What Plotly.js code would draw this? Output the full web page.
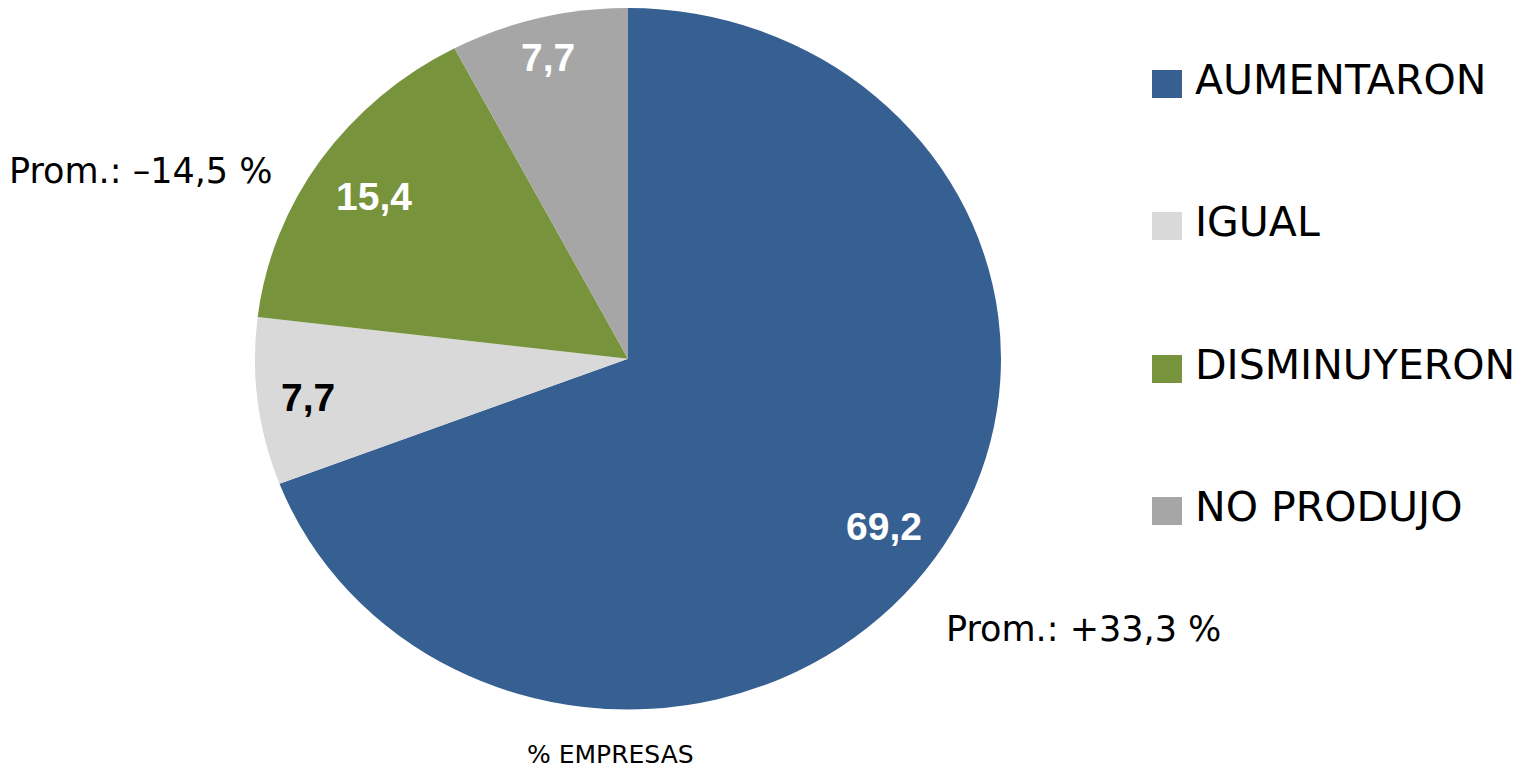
<!DOCTYPE html>
<html><head><meta charset="utf-8">
<script src="https://cdn.plot.ly/plotly-3.0.1.min.js"></script>
<style>html,body{margin:0;padding:0;background:#fff;}#chart{width:1518px;height:772px;}</style>
</head><body><div id="chart"></div>
<script>
// ---- data ----
const categories = ['AUMENTARON', 'IGUAL', 'DISMINUYERON', 'NO PRODUJO'];
const values = [69.2, 7.7, 15.4, 7.7];
const averageNotes = ['Prom.: –14,5 %', 'Prom.: +33,3 %'];
const axisNote = '% EMPRESAS';

// ---- styles ----
const colors = ['#376092', '#D9D9D9', '#77933C', '#A6A6A6'];
const textColors = ['#FFFFFF', '#000000', '#FFFFFF', '#FFFFFF'];
const labelRadius = [0.832, 0.865, 0.828, 0.89];   // fraction of radius for value labels
const W = 1518, H = 772;
const px = x => x / W, py = y => 1 - y / H;
const noteFont = 'DejaVu Sans, Verdana, sans-serif';
const valueFont = 'Liberation Sans, Arial, sans-serif';

const cx = 628, cyTop = 8, cyBot = 709.5;
const halfW = 400;
const stretchX = 373 / ((cyBot - cyTop) / 2);

const trace = {
  type: 'pie',
  labels: categories,
  values: values,
  textinfo: 'none',
  textposition: 'none',
  sort: false,
  direction: 'clockwise',
  rotation: 0,
  marker: {colors: colors, line: {width: 0}},
  hoverinfo: 'none',
  showlegend: false,
  domain: {x: [px(cx - halfW), px(cx + halfW)], y: [py(cyBot), py(cyTop)]}
};

const legendMid = [84, 226, 369, 511];
const shapes = categories.map((c, i) => ({
  type: 'rect', xref: 'paper', yref: 'paper',
  x0: px(1152), x1: px(1182), y0: py(legendMid[i] + 14), y1: py(legendMid[i] - 14),
  fillcolor: colors[i], line: {width: 0}
}));

const baseAnnotations = categories.map((c, i) => ({
  text: c, xref: 'paper', yref: 'paper', x: px(1193), y: py(legendMid[i] - 4),
  xanchor: 'left', yanchor: 'middle', showarrow: false,
  font: {family: noteFont, size: 41, color: '#000'}
}));
baseAnnotations.push({
  text: averageNotes[0], xref: 'paper', yref: 'paper', x: px(7), y: py(171),
  xanchor: 'left', yanchor: 'middle', showarrow: false,
  font: {family: noteFont, size: 35, color: '#000'}
});
baseAnnotations.push({
  text: averageNotes[1], xref: 'paper', yref: 'paper', x: px(944), y: py(629),
  xanchor: 'left', yanchor: 'middle', showarrow: false,
  font: {family: noteFont, size: 35, color: '#000'}
});
baseAnnotations.push({
  text: axisNote, xref: 'paper', yref: 'paper', x: px(610), y: py(754),
  xanchor: 'center', yanchor: 'middle', showarrow: false,
  font: {family: noteFont, size: 25, color: '#000'}
});

const layout = {
  width: W, height: H,
  margin: {l: 0, r: 0, t: 0, b: 0},
  paper_bgcolor: '#FFFFFF',
  plot_bgcolor: '#FFFFFF',
  showlegend: false,
  shapes: shapes,
  annotations: baseAnnotations
};

Plotly.newPlot('chart', [trace], layout, {displayModeBar: false, staticPlot: true}).then(gd => {
  const cd0 = gd.calcdata[0][0];
  // reference pie is slightly wider than tall
  const layer = gd.querySelector('.pielayer');
  if (layer && cd0 && cd0.cx !== undefined) {
    const prev = layer.getAttribute('transform') || '';
    layer.setAttribute('transform', prev + ' translate(' + cd0.cx + ',0) scale(' + stretchX + ',1) translate(' + (-cd0.cx) + ',0)');
  }
  // value labels placed along each slice's mid-angle, using the pie's own geometry
  const total = values.reduce((a, b) => a + b, 0);
  let cum = 0;
  const valueAnnotations = values.map((v, i) => {
    const mid = (cum + v / 2) / total * 2 * Math.PI;
    cum += v;
    const x = cd0.cx + cd0.r * stretchX * labelRadius[i] * Math.sin(mid);
    const y = cd0.cy - cd0.r * labelRadius[i] * Math.cos(mid);
    return {
      text: v.toFixed(1).replace('.', ','), xref: 'paper', yref: 'paper',
      x: px(x), y: py(y + 2), xanchor: 'center', yanchor: 'middle', showarrow: false,
      font: {family: valueFont, size: 39, color: textColors[i], weight: 'bold'}
    };
  });
  return Plotly.relayout(gd, {annotations: baseAnnotations.concat(valueAnnotations)}).then(() => {
    const l2 = gd.querySelector('.pielayer');
    if (l2 && !/scale/.test(l2.getAttribute('transform') || '')) {
      const prev = l2.getAttribute('transform') || '';
      l2.setAttribute('transform', prev + ' translate(' + cd0.cx + ',0) scale(' + stretchX + ',1) translate(' + (-cd0.cx) + ',0)');
    }
  });
});
</script>
</body></html>
